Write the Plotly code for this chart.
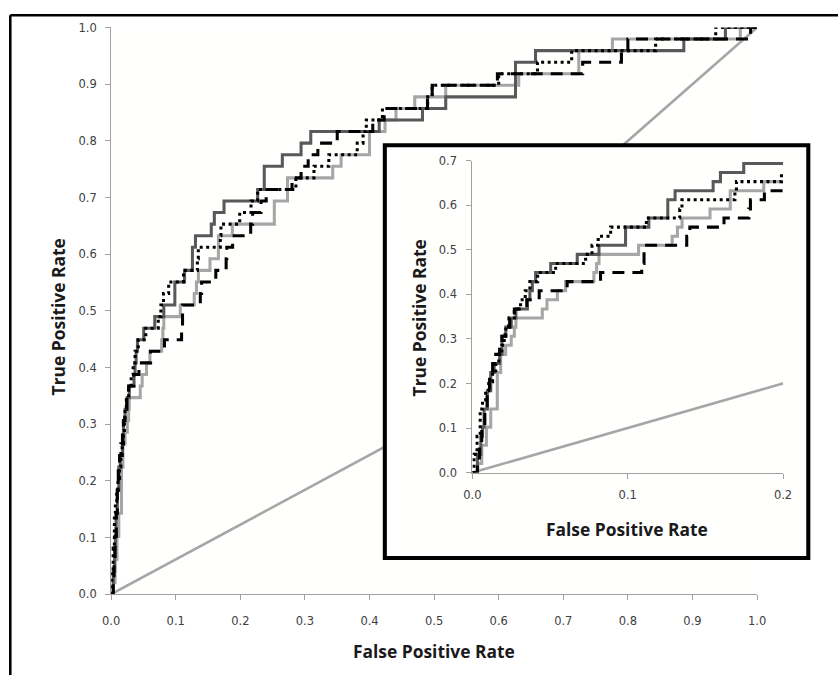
import plotly.graph_objects as go

# ROC curves of four classifiers (49 positive cases); TPR stored as true-positive counts
N_POS = 49

fpr_a = [0, .0032, .0054, .0065, .0075, .0096, .0118, .014, .0175, .019, .0215, .025, .028,
         .0354, .037, .0386, .0407, .0504, .0675, .0815, .0986, .1136, .1258, .1305, .155,
         .1597, .1747, .2268, .237, .265, .294, .309, .415, .482, .518, .626, .657, .8866,
         .951, 1.0]
tp_a = [0, 2, 4, 5, 7, 9, 11, 12, 13, 15, 16, 17, 18,
        19, 20, 21, 22, 23, 24, 25, 27, 28, 30, 31, 32,
        33, 34, 35, 37, 38, 39, 40, 41, 42, 43, 46, 47, 48,
        49, 49]

fpr_b = [0, .001, .003, .005, .0065, .0085, .0105, .013, .015, .017, .019, .0205, .0215,
         .0235, .027, .031, .034, .037, .042, .0536, .0729, .077, .081, .089, .112, .1335,
         .1349, .169, .17, .199, .2165, .2268, .286, .314, .337, .381, .39, .395, .42, .49,
         .497, .6, .66, .713, .843, .936, 1.0]
tp_b = [0, 2, 4, 7, 8, 9, 10, 11, 12, 13, 14, 15, 16,
        17, 18, 19, 20, 21, 22, 23, 24, 25, 26, 27, 28, 29,
        30, 31, 32, 33, 34, 35, 36, 37, 38, 39, 40, 41, 42, 43,
        44, 45, 46, 47, 48, 49, 49]

fpr_c = [0, .0032, .0045, .006, .008, .0095, .011, .013, .015, .0175, .019, .021, .024,
         .027, .035, .043, .061, .0825, .109, .1105, .138, .140, .162, .178, .179, .188,
         .216, .219, .232, .24, .28, .294, .305, .32, .35, .405, .4227, .4897, .497, .598,
         .73, .79, .80, .99, 1.0]
tp_c = [0, 1, 3, 5, 7, 9, 11, 12, 13, 14, 15, 16, 17,
        18, 19, 20, 21, 22, 23, 25, 26, 27, 28, 29, 30, 31,
        32, 33, 34, 35, 36, 37, 38, 39, 40, 41, 42, 43, 44, 45,
        46, 47, 48, 49, 49]

fpr_d = [0, .0035, .006, .009, .0118, .016, .0182, .0214, .025, .027, .028, .045, .048,
         .0547, .06, .0782, .080, .0815, .107, .1286, .132, .135, .153, .166, .1876,
         .2526, .273, .343, .356, .40, .424, .441, .47, .518, .631, .724, .776, .974, 1.0]
tp_d = [0, 1, 3, 5, 7, 11, 13, 14, 15, 16, 17, 18, 19,
        20, 21, 22, 23, 24, 25, 26, 27, 28, 29, 31, 32,
        34, 36, 37, 38, 40, 41, 42, 43, 44, 45, 47, 48, 49, 49]

# reference line of the full-range panel (its middle vertices sit behind the inset)
fpr_ref = [0, 0.5, 0.75, 1.0]
tpr_ref = [0, 0.307, 0.75, 1.0]
# chance line of the zoomed panel
fpr_ref_zoom = [0, 1]
tpr_ref_zoom = [0, 1]

main_ticks = [0.0, 0.1, 0.2, 0.3, 0.4, 0.5, 0.6, 0.7, 0.8, 0.9, 1.0]
inset_x_ticks = [0.0, 0.1, 0.2]
inset_y_ticks = [0.0, 0.1, 0.2, 0.3, 0.4, 0.5, 0.6, 0.7]

# page placement: the figure sits after the body margin and the page is shown
# slightly reduced, so positions are given in page pixels and converted here
SCALE = 0.98
AX, AY = 7.7, 5.2
W, H = 848, 684


def px_x(p):
    return (p - AX) / SCALE / W


def px_y(p):
    return 1 - (p - AY) / SCALE / H


def sz(v):
    return v / SCALE


DARK = "#595959"
LIGHT = "#a6a6a6"
BLACK = "#000000"

curves = [
    (fpr_d, tp_d, dict(color=LIGHT, width=sz(3))),
    (fpr_a, tp_a, dict(color=DARK, width=sz(3))),
    (fpr_c, tp_c, dict(color=BLACK, width=sz(3), dash="12px,8px")),
    (fpr_b, tp_b, dict(color=BLACK, width=sz(3), dash="3px,3.5px")),
]

fig = go.Figure()

for xa, ya, rx, ry in (("x", "y", fpr_ref, tpr_ref), ("x3", "y3", fpr_ref_zoom, tpr_ref_zoom)):
    fig.add_trace(go.Scatter(x=rx, y=ry, mode="lines", xaxis=xa, yaxis=ya,
                             line=dict(color=LIGHT, width=sz(2.5)), showlegend=False,
                             hoverinfo="skip"))
    for fx, tp, ln in curves:
        fig.add_trace(go.Scatter(x=fx, y=[t / N_POS for t in tp], mode="lines",
                                 line_shape="hv", line=ln, xaxis=xa, yaxis=ya,
                                 showlegend=False, hoverinfo="skip"))

# empty subplot that only provides the white panel behind the inset
fig.add_trace(go.Scatter(x=[], y=[], xaxis="x2", yaxis="y2", showlegend=False,
                         hoverinfo="skip"))

tick_font = dict(family="DejaVu Sans", size=11.5, color="#404040")
axis_common = dict(showline=True, linecolor="#a0a0a0", linewidth=1, ticks="outside",
                   ticklen=sz(5), tickcolor="#a0a0a0", tickwidth=1, showgrid=False,
                   zeroline=False, tickfont=tick_font, fixedrange=True)

fig.update_layout(
    width=W, height=H,
    margin=dict(l=0, r=0, t=0, b=0),
    paper_bgcolor="#ffffff",
    plot_bgcolor="#fffffe",
    xaxis=dict(domain=[px_x(110), px_x(756.7)], range=[0, 1], anchor="y",
               tickvals=main_ticks, ticktext=[f"{v:.1f}" for v in main_ticks],
               ticklabelstandoff=11, **axis_common),
    yaxis=dict(domain=[px_y(592.7), px_y(25.7)], range=[0, 1], anchor="x",
               tickvals=main_ticks, ticktext=[f"{v:.1f}" for v in main_ticks],
               ticklabelstandoff=6, **axis_common),
    xaxis2=dict(domain=[px_x(384), px_x(808)], range=[0, 1], anchor="y2", visible=False),
    yaxis2=dict(domain=[px_y(556.5), px_y(143.5)], range=[0, 1], anchor="x2", visible=False),
    xaxis3=dict(domain=[px_x(471.7), px_x(782.7)], range=[0, 0.2], anchor="y3",
                tickvals=inset_x_ticks, ticktext=[f"{v:.1f}" for v in inset_x_ticks],
                ticklabelstandoff=7, **axis_common),
    yaxis3=dict(domain=[px_y(471), px_y(159)], range=[0, 0.7], anchor="x3",
                tickvals=inset_y_ticks, ticktext=[f"{v:.1f}" for v in inset_y_ticks],
                ticklabelstandoff=7, **axis_common),
)

title_font = dict(family="Open Sans", size=17.4, color="#1a1a1a", weight=700)
titles = [
    ("False Positive Rate", 433.3, 650, 0),
    ("True Positive Rate", 56.5, 315, -90),
    ("False Positive Rate", 626.7, 527, 0),
    ("True Positive Rate", 418.3, 316.7, -90),
]
for text, x, y, ang in titles:
    fig.add_annotation(text=text, x=px_x(x), y=px_y(y), xref="paper", yref="paper",
                       xanchor="center", yanchor="middle", showarrow=False,
                       textangle=ang, font=title_font)

# outer border (top and left edges) and the inset frame
fig.add_shape(type="line", xref="paper", yref="paper", x0=px_x(9), x1=1.0,
              y0=px_y(13.5), y1=px_y(13.5), line=dict(color=BLACK, width=sz(2.5)))
fig.add_shape(type="line", xref="paper", yref="paper", x0=px_x(9), x1=px_x(9),
              y0=px_y(13.5), y1=0.0, line=dict(color=BLACK, width=sz(2.5)))
fig.add_shape(type="rect", xref="paper", yref="paper", x0=px_x(384), x1=px_x(808),
              y0=px_y(556.5), y1=px_y(143.5), line=dict(color=BLACK, width=sz(4)),
              fillcolor="rgba(0,0,0,0)", layer="above")

fig.write_html("out.html", config={"displayModeBar": False})
